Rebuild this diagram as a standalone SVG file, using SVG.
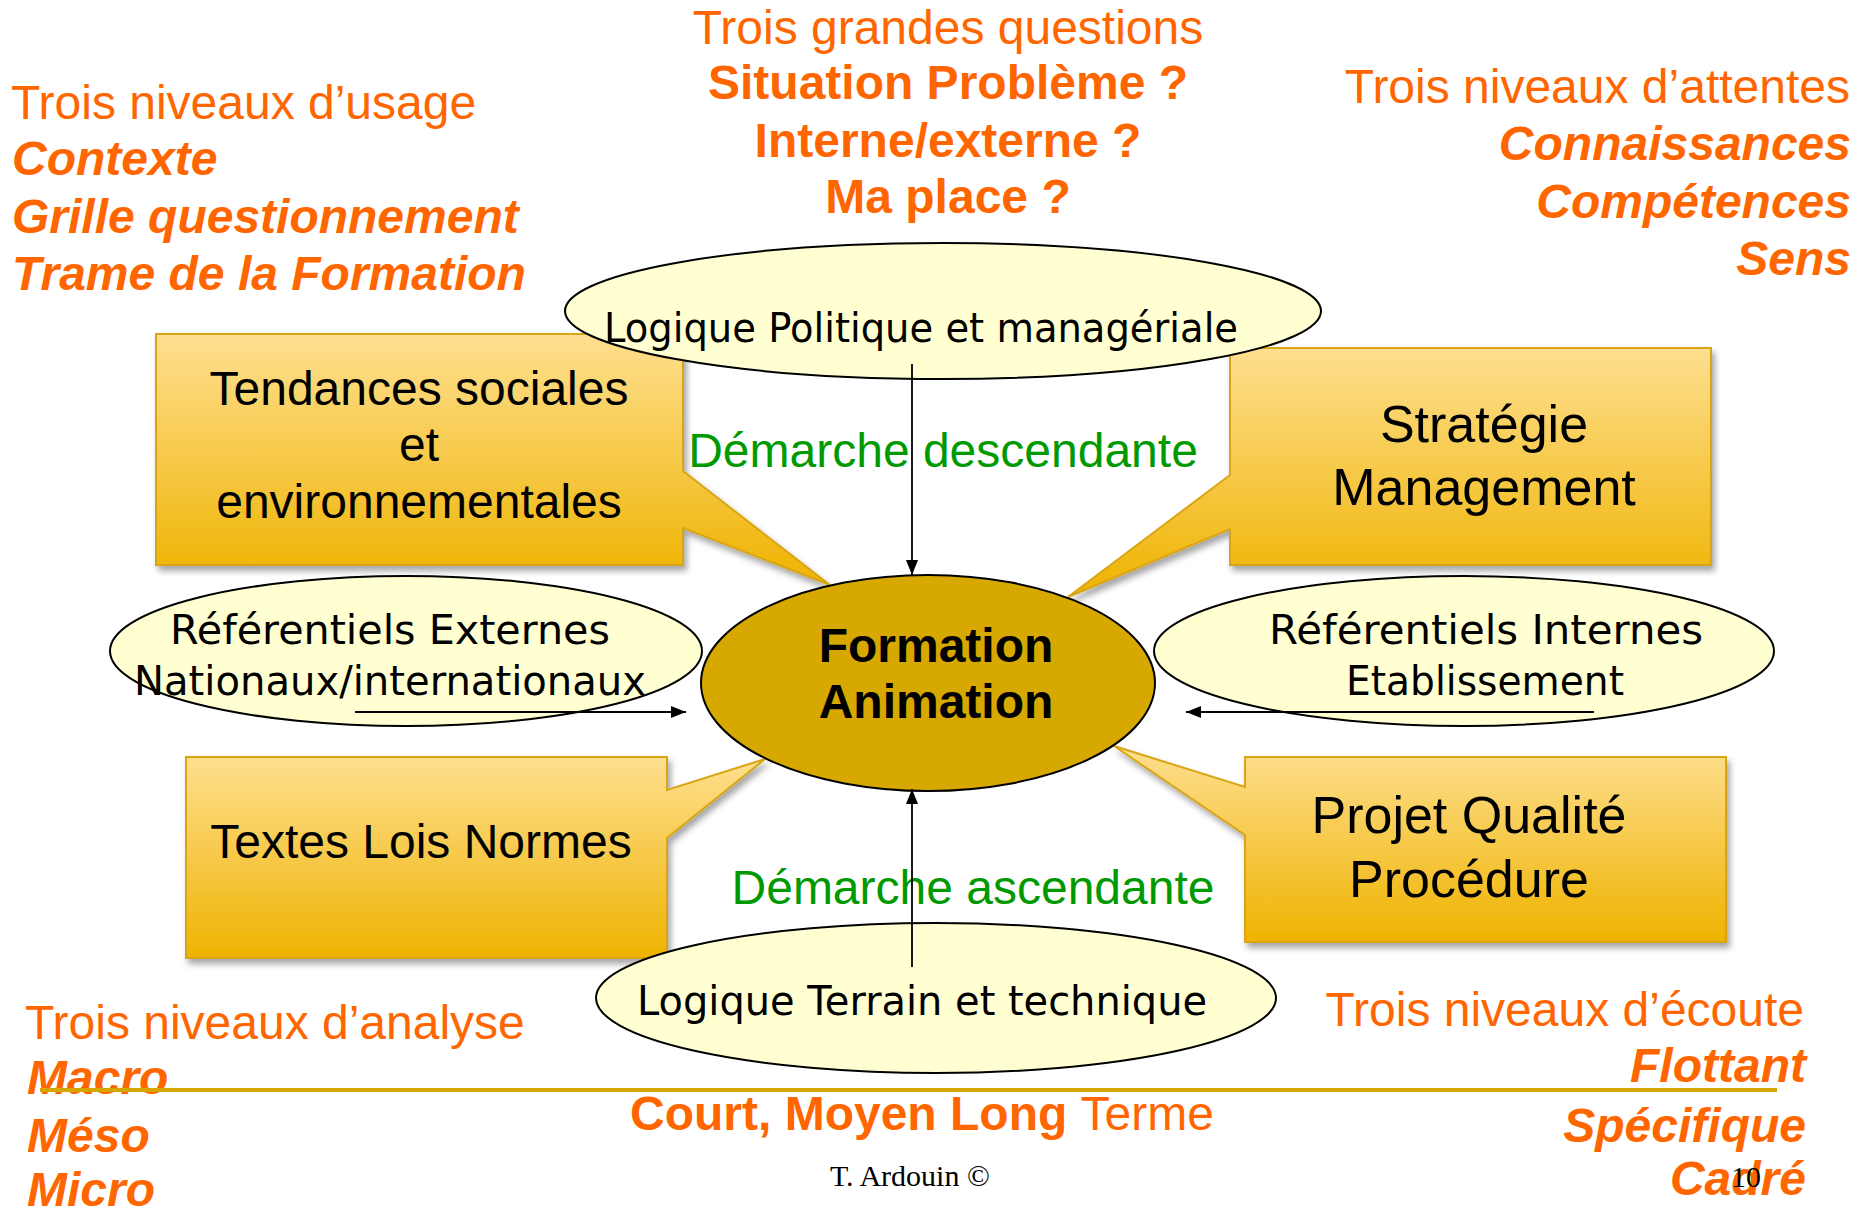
<svg xmlns="http://www.w3.org/2000/svg" width="1858" height="1209" viewBox="0 0 1858 1209">
<style>
.or{font-family:"Liberation Sans",Arial,sans-serif;font-size:48px;fill:#FF6600}
.orb{font-family:"Liberation Sans",Arial,sans-serif;font-size:48px;fill:#FF6600;font-weight:bold}
.ori{font-family:"Liberation Sans",Arial,sans-serif;font-size:48px;fill:#FF6600;font-weight:bold;font-style:italic}
.gr{font-family:"Liberation Sans",Arial,sans-serif;font-size:48px;fill:#009A00}
.bx{font-family:"Liberation Sans",Arial,sans-serif;font-size:48px;fill:#000;text-anchor:middle}
.bx52{font-family:"Liberation Sans",Arial,sans-serif;font-size:52px;fill:#000;text-anchor:middle}
.cm{font-family:"Comic Sans MS","DejaVu Sans",sans-serif;font-size:40px;fill:#000}
.call{fill:url(#gold);stroke:#D9A514;stroke-width:2;filter:url(#sh)}
.ell{fill:#FFFFD2;stroke:#000;stroke-width:2}
.con{stroke:#000;stroke-width:1.8;fill:none;marker-end:url(#ah)}
.ser{font-family:"Liberation Serif","Times New Roman",serif;font-size:30px;fill:#000}
</style>
<defs>
<linearGradient id="gold" x1="0" y1="0" x2="0" y2="1">
<stop offset="0" stop-color="#FEDF90"/>
<stop offset="1" stop-color="#EFB300"/>
</linearGradient>
<filter id="sh" x="-10%" y="-10%" width="125%" height="130%">
<feDropShadow dx="3" dy="5" stdDeviation="3" flood-color="#000" flood-opacity="0.35"/>
</filter>
<marker id="ah" markerUnits="userSpaceOnUse" markerWidth="16" markerHeight="14" refX="15" refY="6" orient="auto">
<path d="M0,0 L15,6 L0,12 Z" fill="#000"/>
</marker>
</defs>
<rect width="1858" height="1209" fill="#fff"/>

<g id="usage">
<text class="or" x="11" y="119">Trois niveaux d’usage</text>
<text class="ori" x="12" y="175">Contexte</text>
<text class="ori" x="12" y="233">Grille questionnement</text>
<text class="ori" x="12" y="290">Trame de la Formation</text>
</g>
<g id="questions" text-anchor="middle">
<text class="or" x="948" y="44">Trois grandes questions</text>
<text class="orb" x="948" y="99">Situation Problème ?</text>
<text class="orb" x="948" y="157">Interne/externe ?</text>
<text class="orb" x="948" y="213">Ma place ?</text>
</g>
<g id="attentes" text-anchor="end">
<text class="or" x="1850" y="103">Trois niveaux d’attentes</text>
<text class="ori" x="1851" y="160">Connaissances</text>
<text class="ori" x="1851" y="218">Compétences</text>
<text class="ori" x="1851" y="275">Sens</text>
</g>

<g id="tendances">
<path class="call" d="M156,334 H683 V471 L830,585 L683,528 V565 H156 Z"/>
<text class="bx" x="419" y="405">Tendances sociales</text>
<text class="bx" x="419" y="461">et</text>
<text class="bx" x="419" y="518">environnementales</text>
</g>
<g id="strategie">
<path class="call" d="M1230,348 H1711 V565 H1230 V529 L1068,597 L1230,475 Z"/>
<text class="bx52" x="1484" y="442">Stratégie</text>
<text class="bx52" x="1484" y="505">Management</text>
</g>
<g id="textes">
<path class="call" d="M186,757 H667 V790 L765,759 L667,838 V958 H186 Z"/>
<text class="bx" x="421" y="858">Textes Lois Normes</text>
</g>
<g id="projet">
<path class="call" d="M1245,757 H1726 V942 H1245 V835 L1114,746 L1245,787 Z"/>
<text class="bx52" x="1469" y="833">Projet Qualité</text>
<text class="bx52" x="1469" y="897">Procédure</text>
</g>

<g id="logique-politique">
<ellipse class="ell" cx="943" cy="311" rx="378" ry="68"/>
<text class="cm" x="604" y="342" textLength="634" lengthAdjust="spacingAndGlyphs">Logique Politique et managériale</text>
</g>
<g id="ref-externes">
<ellipse class="ell" cx="406" cy="651" rx="296" ry="75"/>
<text class="cm" x="170" y="644" textLength="440" lengthAdjust="spacingAndGlyphs">Référentiels Externes</text>
<text class="cm" x="134" y="695" textLength="512" lengthAdjust="spacingAndGlyphs">Nationaux/internationaux</text>
</g>
<g id="ref-internes">
<ellipse class="ell" cx="1464" cy="651" rx="310" ry="75"/>
<text class="cm" x="1269" y="644" textLength="434" lengthAdjust="spacingAndGlyphs">Référentiels Internes</text>
<text class="cm" x="1346" y="695" textLength="278" lengthAdjust="spacingAndGlyphs">Etablissement</text>
</g>
<g id="logique-terrain">
<ellipse class="ell" cx="936" cy="998" rx="340" ry="75"/>
<text class="cm" x="637" y="1015" textLength="570" lengthAdjust="spacingAndGlyphs">Logique Terrain et technique</text>
</g>

<g id="demarches">
<text class="gr" x="943" y="467" text-anchor="middle">Démarche descendante</text>
<text class="gr" x="973" y="904" text-anchor="middle">Démarche ascendante</text>
</g>

<g id="formation">
<ellipse cx="928" cy="683" rx="227" ry="108" fill="#D6A800" stroke="#000" stroke-width="2"/>
<text class="bx" x="936" y="662" font-weight="bold">Formation</text>
<text class="bx" x="936" y="718" font-weight="bold">Animation</text>
</g>

<g id="connectors">
<line class="con" x1="912" y1="364" x2="912" y2="575"/>
<line class="con" x1="912" y1="967" x2="912" y2="789"/>
<line class="con" x1="355" y1="712" x2="686" y2="712"/>
<line class="con" x1="1594" y1="712" x2="1186" y2="712"/>
</g>

<g id="analyse">
<text class="or" x="25" y="1039">Trois niveaux d’analyse</text>
<text class="ori" x="27" y="1094">Macro</text>
<text class="ori" x="27" y="1152">Méso</text>
<text class="ori" x="27" y="1206">Micro</text>
</g>
<g id="ecoute" text-anchor="end">
<text class="or" x="1804" y="1026">Trois niveaux d’écoute</text>
<text class="ori" x="1806" y="1082">Flottant</text>
<text class="ori" x="1806" y="1142">Spécifique</text>
<text class="ori" x="1806" y="1195">Cadré</text>
</g>
<line id="rule" x1="40" y1="1090" x2="1777" y2="1090" stroke="#D6A600" stroke-width="4"/>
<g id="terme">
<text class="orb" x="630" y="1130">Court, Moyen Long <tspan font-weight="normal">Terme</tspan></text>
</g>
<text class="ser" x="830" y="1186">T. Ardouin ©</text>
<text class="ser" x="1731" y="1187">10</text>
</svg>
